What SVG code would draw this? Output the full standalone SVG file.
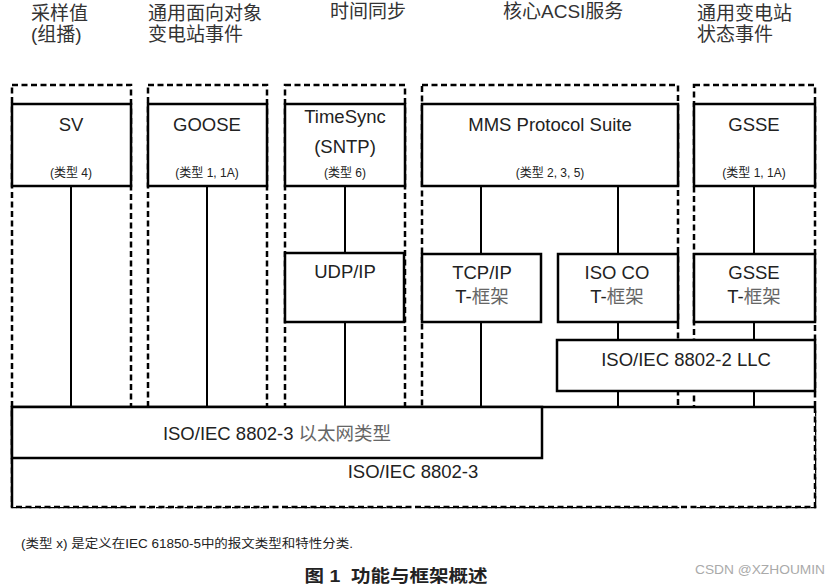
<svg xmlns="http://www.w3.org/2000/svg" width="831" height="586" viewBox="0 0 831 586">
<style>
text{font-family:"Liberation Sans","Noto Sans CJK SC",sans-serif;fill:#222;text-anchor:middle}
.hd{font-size:19px;fill:#333;text-anchor:start}
.lb{font-size:18.5px}
.sm{font-size:12px}
.cj{fill:#666}
.dash{fill:none;stroke:#000;stroke-width:2.5;stroke-dasharray:6 3.5}
.box{fill:#fff;stroke:#000;stroke-width:2.5}
.con line{stroke:#000;stroke-width:2}
</style>
<rect width="831" height="586" fill="#fff"/>
<g id="headers">
<text class="hd" x="31" y="20">采样值</text>
<text class="hd" x="31" y="41">(组播)</text>
<text class="hd" x="148" y="20">通用面向对象</text>
<text class="hd" x="148" y="41">变电站事件</text>
<text class="hd" x="330" y="18">时间同步</text>
<text class="hd" x="503" y="18">核心ACSI服务</text>
<text class="hd" x="697" y="20">通用变电站</text>
<text class="hd" x="697" y="41">状态事件</text>
</g>
<g id="columns">
<rect class="dash" x="12" y="85" width="119" height="422"/>
<rect class="dash" x="148" y="85" width="119" height="422"/>
<rect class="dash" x="285" y="85" width="120" height="422"/>
<rect class="dash" x="422" y="85" width="256" height="422"/>
<rect class="dash" x="694" y="85" width="121" height="422"/>
</g>
<g class="con" id="connectors">
<line x1="71" y1="186" x2="71" y2="407"/>
<line x1="207" y1="186" x2="207" y2="407"/>
<line x1="345" y1="186" x2="345" y2="253"/>
<line x1="345" y1="322" x2="345" y2="407"/>
<line x1="481" y1="186" x2="481" y2="254"/>
<line x1="481" y1="322" x2="481" y2="407"/>
<line x1="618" y1="186" x2="618" y2="254"/>
<line x1="618" y1="322" x2="618" y2="340"/>
<line x1="618" y1="391" x2="618" y2="407"/>
<line x1="754" y1="186" x2="754" y2="254"/>
<line x1="754" y1="322" x2="754" y2="340"/>
<line x1="754" y1="391" x2="754" y2="407"/>
</g>
<g id="sv"><rect class="box" x="12" y="104" width="119" height="82"/>
<text class="lb" x="71" y="131">SV</text><text class="sm" x="71" y="177">(类型 4)</text></g>
<g id="goose"><rect class="box" x="148" y="104" width="119" height="82"/>
<text class="lb" x="207" y="131">GOOSE</text><text class="sm" x="207" y="177">(类型 1, 1A)</text></g>
<g id="timesync"><rect class="box" x="285" y="104" width="120" height="82"/>
<text class="lb" x="345" y="123">TimeSync</text><text class="lb" x="345" y="153">(SNTP)</text><text class="sm" x="345" y="177">(类型 6)</text></g>
<g id="mms"><rect class="box" x="422" y="104" width="256" height="82"/>
<text class="lb" x="550" y="131">MMS Protocol Suite</text><text class="sm" x="550" y="177">(类型 2, 3, 5)</text></g>
<g id="gsse"><rect class="box" x="694" y="104" width="121" height="82"/>
<text class="lb" x="754" y="131">GSSE</text><text class="sm" x="754" y="177">(类型 1, 1A)</text></g>
<g id="udpip"><rect class="box" x="285" y="253" width="119" height="69"/>
<text class="lb" x="345" y="278">UDP/IP</text></g>
<g id="tcpip"><rect class="box" x="422" y="254" width="119" height="68"/>
<text class="lb" x="482" y="279">TCP/IP</text><text class="lb" x="482" y="303">T-<tspan class="cj">框架</tspan></text></g>
<g id="isoco"><rect class="box" x="558" y="254" width="120" height="68"/>
<text class="lb" x="617" y="279">ISO CO</text><text class="lb" x="617" y="303">T-<tspan class="cj">框架</tspan></text></g>
<g id="gsset"><rect class="box" x="694" y="254" width="121" height="68"/>
<text class="lb" x="754" y="279">GSSE</text><text class="lb" x="754" y="303">T-<tspan class="cj">框架</tspan></text></g>
<g id="llc"><rect class="box" x="557" y="340" width="258" height="51"/>
<text class="lb" x="686" y="366">ISO/IEC 8802-2 LLC</text></g>
<g id="e8802-3">
<rect x="12" y="407" width="803" height="100" fill="#fff"/>
<path d="M12,507 V407 H815" fill="none" stroke="#000" stroke-width="2.5"/>
<path d="M815,407 V507 H12" class="dash"/>
<text class="lb" x="413" y="478">ISO/IEC 8802-3</text></g>
<g id="ethertype"><rect class="box" x="12" y="407" width="530" height="51"/>
<text class="lb" x="277" y="440">ISO/IEC 8802-3 <tspan class="cj">以太网类型</tspan></text></g>
<g id="notes">
<text x="21" y="548" style="font-size:12px;text-anchor:start" textLength="332" lengthAdjust="spacingAndGlyphs">(类型 x) 是定义在IEC 61850-5中的报文类型和特性分类.</text>
<text x="396" y="582" style="font-size:17px;font-weight:bold" textLength="183" lengthAdjust="spacingAndGlyphs">图 1&#160; 功能与框架概述</text>
<text x="695" y="574" style="font-size:12px;fill:#aaa;text-anchor:start" textLength="130" lengthAdjust="spacingAndGlyphs">CSDN @XZHOUMIN</text>
</g>
</svg>
